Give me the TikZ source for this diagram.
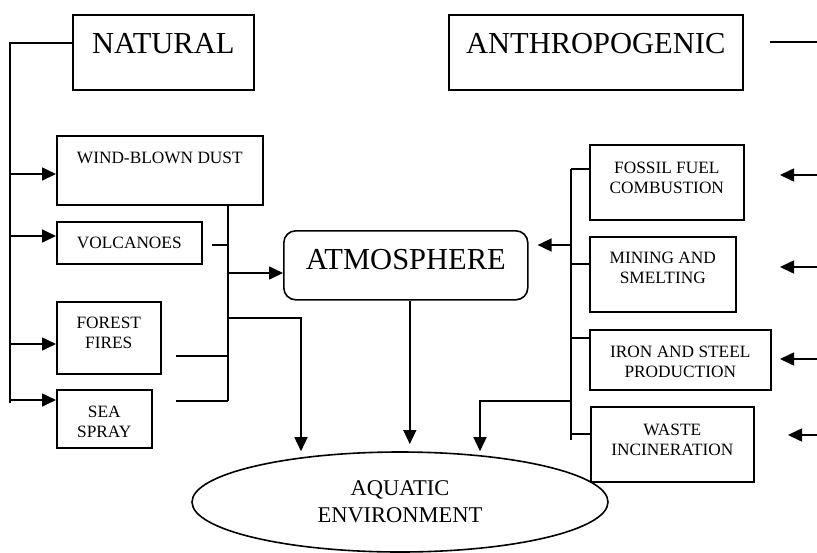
\documentclass[tikz,border=0pt]{standalone}
\usepackage{fontspec}
\setmainfont{Liberation Serif}
\usetikzlibrary{arrows.meta,shapes.geometric}

\begin{document}
\begin{tikzpicture}[x=1pt,y=-1pt,line width=1.6pt,
 >={Triangle[length=14pt,width=13pt]},
 bigbox/.style={draw,inner sep=0pt,anchor=north west,font=\fontsize{30.5}{36}\selectfont},
 srcbox/.style={draw,inner sep=0pt,anchor=north west,align=center,font=\fontsize{17.3}{20.5}\selectfont}]
\useasboundingbox (0,0) rectangle (817,552);
% source groups
\node[bigbox,minimum width=181pt,text height=39pt,text depth=36pt] (nat) at (72,14) {NATURAL};
\node[bigbox,minimum width=294pt,text height=39pt,text depth=36pt] (anth) at (448,14) {ANTHROPOGENIC};
% natural sources
\node[srcbox,minimum width=206pt,text height=28pt,text depth=41pt] (wind) at (56,135) {WIND-BLOWN DUST};
\node[srcbox,minimum width=145pt,text height=27pt,text depth=15pt] (volc) at (56,221) {VOLCANOES};
\node[srcbox,minimum width=104pt,text height=47pt,text depth=25pt] (forest) at (56,301) {FOREST\\FIRES};
\node[srcbox,minimum width=95pt,text height=48pt,text depth=10pt] (sea) at (56,389) {SEA\\SPRAY};
% anthropogenic sources
\node[srcbox,minimum width=154pt,text height=49pt,text depth=26pt] (fossil) at (589,144) {FOSSIL FUEL\\COMBUSTION};
\node[srcbox,minimum width=146pt,text height=47pt,text depth=28pt] (mining) at (589,236) {MINING AND\\SMELTING};
\node[srcbox,minimum width=181pt,text height=48pt,text depth=12pt] (iron) at (589,329) {IRON AND STEEL\\PRODUCTION};
\node[srcbox,minimum width=163pt,text height=49pt,text depth=26pt] (waste) at (590,406) {WASTE\\INCINERATION};
% sinks
\node[bigbox,rounded corners=12pt,minimum width=244pt,text height=39pt,text depth=30pt] (atm) at (283,230) {ATMOSPHERE};
\node[draw,ellipse,inner sep=0pt,minimum width=416pt,minimum height=100pt,align=center,
 font=\fontsize{22.5}{27}\selectfont] (aqua) at (400,502) {AQUATIC\\ENVIRONMENT};
% bus lines
\coordinate (ltop) at (10,43);
\coordinate (lbot) at (10,403);
\coordinate (mtop) at (228,204);
\coordinate (mbot) at (228,401);
\coordinate (rtop) at (571,169);
\coordinate (rbot) at (571,440);
\coordinate (redge) at (817,0);
\draw (nat.west |- ltop) -- (ltop) -- (lbot);
\foreach \b/\y in {wind/174,volc/236,forest/344,sea/400}
 \draw[->] (ltop |- 0,\y) -- (\b.west |- 0,\y);
\draw (mtop) -- (mbot);
\draw ([xshift=9pt]volc.east |- 0,245) -- (mtop |- 0,245);
\draw ([xshift=14pt]forest.east |- 0,356) -- (mtop |- 0,356);
\draw ([xshift=23pt]sea.east |- 0,401) -- (mtop |- 0,401);
\draw[->] (mtop |- 0,273) -- (atm.west |- 0,273);
\draw[->] (mtop |- 0,318) -| ([xshift=-99pt]aqua.north);
\draw[->] ([xshift=4pt]atm.south) -- ([xshift=4pt]atm.south |- 0,444);
\draw (rtop) -- (rbot);
\foreach \b/\y in {fossil/169,mining/264,iron/338,waste/434}
 \draw (rtop |- 0,\y) -- (\b.west |- 0,\y);
\draw[->] (rtop |- 0,245) -- ([xshift=9pt]atm.east |- 0,245);
\draw[->] (rtop |- 0,401) -| ([xshift=80pt]aqua.north);
\draw ([xshift=26pt]anth.east |- 0,42) -- (redge |- 0,42);
\foreach \y/\t in {175/780,267/780,359/780,435/788}
 \draw[->] (redge |- 0,\y) -- (\t,\y);
\end{tikzpicture}
\end{document}
